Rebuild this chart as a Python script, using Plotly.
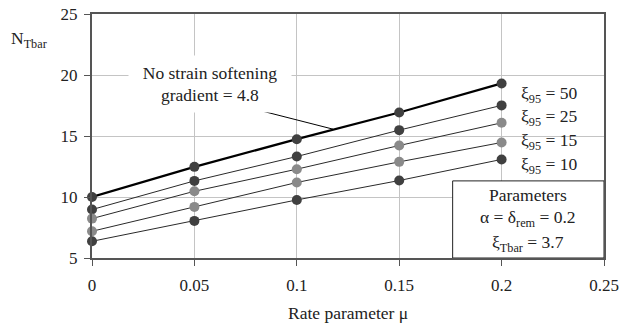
import plotly.graph_objects as go

mu = [0, 0.05, 0.1, 0.15, 0.2]
no_softening = [10.0, 12.47, 14.74, 16.93, 19.31]
xi95_50 = [8.97, 11.32, 13.32, 15.48, 17.51]
xi95_25 = [8.23, 10.47, 12.28, 14.22, 16.08]
xi95_15 = [7.19, 9.19, 11.19, 12.88, 14.47]
xi95_10 = [6.37, 8.04, 9.76, 11.35, 13.08]

x_ticks = [0, 0.05, 0.1, 0.15, 0.2, 0.25]
x_tick_labels = ["0", "0.05", "0.1", "0.15", "0.2", "0.25"]
y_ticks = [5, 10, 15, 20, 25]

FONT = "Liberation Serif"
TXT = "#222222"
DARK = "#404040"
LIGHT = "#8a8a8a"

series = [
    (no_softening, "#000000", 2.2, DARK),
    (xi95_50, "#2a2a2a", 1, DARK),
    (xi95_25, "#2a2a2a", 1, LIGHT),
    (xi95_15, "#2a2a2a", 1, LIGHT),
    (xi95_10, "#2a2a2a", 1, DARK),
]

fig = go.Figure()
for vals, lc, lw, mc in series:
    fig.add_trace(go.Scatter(
        x=mu, y=vals, mode="lines+markers",
        line=dict(color=lc, width=lw),
        marker=dict(color=mc, size=10, line=dict(width=0)),
        showlegend=False, cliponaxis=False, hoverinfo="skip",
    ))

axis_common = dict(
    showgrid=True, gridcolor="#c4c4c4", gridwidth=1,
    showline=True, linecolor="#555555", linewidth=2, mirror=True,
    ticks="outside", ticklen=6, tickcolor="#555555", tickwidth=1,
    tickfont=dict(family=FONT, size=17, color=TXT),
    zeroline=False, automargin=False,
)

fig.update_xaxes(range=[0, 0.25], tickvals=x_ticks, ticktext=x_tick_labels,
                 ticklabelstandoff=5, **axis_common)
fig.update_yaxes(range=[5, 25], tickvals=y_ticks, ticklabelstandoff=3, **axis_common)

FS = 17.5
ann = []
# axis titles
ann.append(dict(xref="paper", yref="paper", x=0.5, y=-0.225, text="Rate parameter μ",
                showarrow=False, font=dict(family=FONT, size=FS, color=TXT),
                xanchor="center", yanchor="middle"))
ann.append(dict(xref="paper", yref="paper", x=-0.123, y=0.895, text="N<sub>Tbar</sub>",
                showarrow=False, font=dict(family=FONT, size=FS, color=TXT),
                xanchor="center", yanchor="middle"))
# no strain softening label
ann.append(dict(x=0.0576, y=19.26, text="No strain softening<br>gradient = 4.8",
                showarrow=False, bgcolor="white", width=160, height=54,
                font=dict(family=FONT, size=FS, color=TXT),
                xanchor="center", yanchor="middle"))
# series labels
for txt, yv in [("50", 18.43), ("25", 16.55), ("15", 14.58), ("10", 12.61)]:
    ann.append(dict(x=0.2085, y=yv, text="ξ<sub>95</sub> = " + txt, showarrow=False,
                    xanchor="left", yanchor="middle",
                    font=dict(family=FONT, size=FS, color=TXT)))
# parameters box text
for txt, yv in [("Parameters", 10.15), ("α = δ<sub>rem</sub> = 0.2", 8.26), ("ξ<sub>Tbar</sub> = 3.7", 6.21)]:
    ann.append(dict(x=0.2129, y=yv, text=txt, showarrow=False,
                    xanchor="center", yanchor="middle",
                    font=dict(family=FONT, size=FS, color=TXT)))

shapes = [
    dict(type="line", x0=0.0703, y0=17.59, x1=0.1177, y1=15.56,
         line=dict(color="#000000", width=1), layer="above"),
    dict(type="rect", x0=0.1761, y0=5, x1=0.25, y1=11.32,
         fillcolor="white", line=dict(color="#222222", width=1), layer="above"),
]

fig.update_layout(
    width=622, height=325,
    margin=dict(l=92, r=18, t=14, b=67, autoexpand=False),
    paper_bgcolor="white", plot_bgcolor="white",
    annotations=ann, shapes=shapes,
    font=dict(family=FONT, size=16, color=TXT),
    hovermode=False,
)

fig.write_html("out.html", config={"displayModeBar": False, "staticPlot": True},
               post_script="document.body.style.margin='0';document.body.style.padding='0';document.body.style.overflow='hidden';")
